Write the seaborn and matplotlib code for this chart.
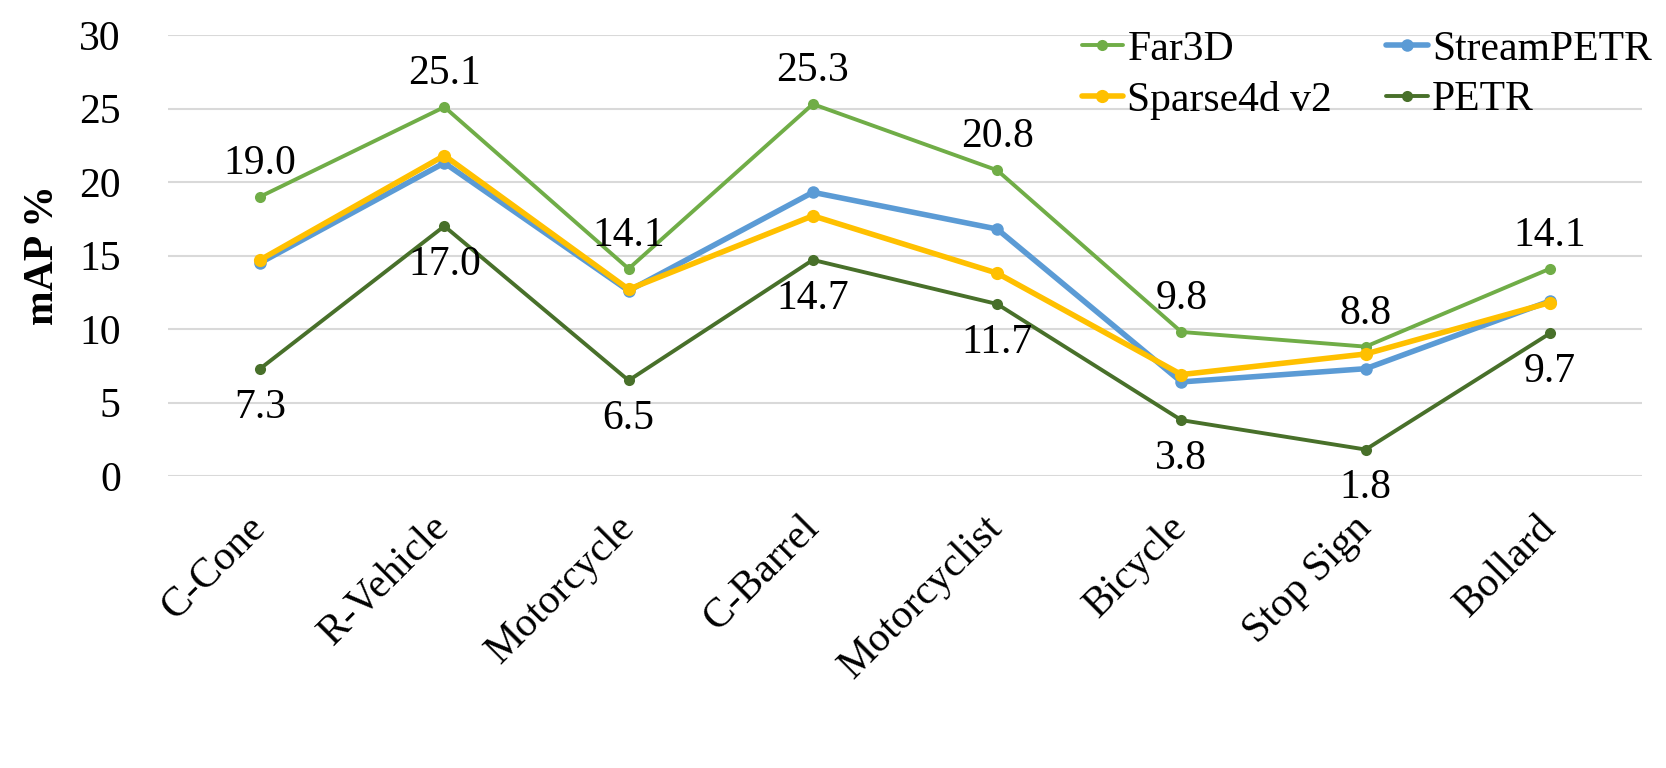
import pandas as pd
import seaborn as sns
import matplotlib.pyplot as plt

# dados
categorias = ["C-Cone", "R-Vehicle", "Motorcycle", "C-Barrel", "Motorcyclist", "Bicycle", "Stop Sign", "Bollard"]
far3d = [19.0, 25.1, 14.1, 25.3, 20.8, 9.8, 8.8, 14.1]
streampetr = [14.5, 21.3, 12.6, 19.3, 16.8, 6.4, 7.3, 11.9]
sparse4d = [14.7, 21.8, 12.7, 17.7, 13.8, 6.9, 8.3, 11.8]
petr = [7.3, 17.0, 6.5, 14.7, 11.7, 3.8, 1.8, 9.7]

series = {"Far3D": far3d, "StreamPETR": streampetr, "Sparse4d v2": sparse4d, "PETR": petr}
cores = {"Far3D": "#70AD47", "StreamPETR": "#5B9BD5", "Sparse4d v2": "#FFC000", "PETR": "#48702A"}
larguras = {"Far3D": 2.8, "StreamPETR": 4.0, "Sparse4d v2": 4.0, "PETR": 2.8}
marcadores = {"Far3D": 8, "StreamPETR": 9, "Sparse4d v2": 9.5, "PETR": 8}

tabela = pd.DataFrame([
    {"cat": c, "x": i, "modelo": m, "valor": v}
    for m, vals in series.items() for i, (c, v) in enumerate(zip(categorias, vals))
])

sns.set_theme(style="white")
plt.rcParams["font.family"] = ["Liberation Serif", "DejaVu Serif"]
plt.rcParams["text.color"] = "black"
plt.rcParams["axes.labelcolor"] = "black"
plt.rcParams["xtick.color"] = "black"
plt.rcParams["ytick.color"] = "black"

TAM = 30

fig = plt.figure(figsize=(16.66, 7.68), dpi=100)
ax = fig.add_axes([168/1666, 1-476/768, (1642-168)/1666, (476-35)/768])

for m in ["Far3D", "StreamPETR", "Sparse4d v2", "PETR"]:
    sns.lineplot(data=tabela[tabela["modelo"] == m], x="x", y="valor", ax=ax,
                 color=cores[m], linewidth=larguras[m], marker="o",
                 markersize=marcadores[m], markeredgewidth=0, label=m, sort=False)

# rotulos de dados
for i, v in enumerate(far3d):
    ax.annotate(f"{v:.1f}", (i, v), xytext=(0, 10), textcoords="offset points",
                ha="center", va="bottom", fontsize=TAM, color="black")
for i, v in enumerate(petr):
    ax.annotate(f"{v:.1f}", (i, v), xytext=(0, -14), textcoords="offset points",
                ha="center", va="top", fontsize=TAM, color="black")

ax.set_xlim(-0.5, len(categorias) - 0.5)
ax.set_ylim(0, 30)
ax.set_yticks([0, 5, 10, 15, 20, 25, 30])
ax.set_xticks(range(len(categorias)))
ax.set_xticklabels(categorias, rotation=45, ha="right", va="center", rotation_mode="anchor")
ax.tick_params(axis="x", length=0, pad=33, labelsize=TAM)
ax.tick_params(axis="y", length=0, pad=34, labelsize=TAM)
ax.set_xlabel("")
ax.set_ylabel("mAP %", fontsize=TAM, fontweight="bold", labelpad=12)
ax.grid(axis="y", color="#D9D9D9", linewidth=1.5)
ax.set_axisbelow(True)
for s in ax.spines.values():
    s.set_visible(False)

h, l = ax.get_legend_handles_labels()
ax.get_legend().remove()
ordem = [0, 2, 1, 3]
fig.legend([h[i] for i in ordem], [l[i] for i in ordem], ncol=2, frameon=False,
           loc="upper right", bbox_to_anchor=(1652/1666, 1-30/768), fontsize=TAM,
           handlelength=1.0, handletextpad=0.1, columnspacing=1.3, labelspacing=0.3,
           borderpad=0, borderaxespad=0)

fig.savefig("out.png", dpi=100)
